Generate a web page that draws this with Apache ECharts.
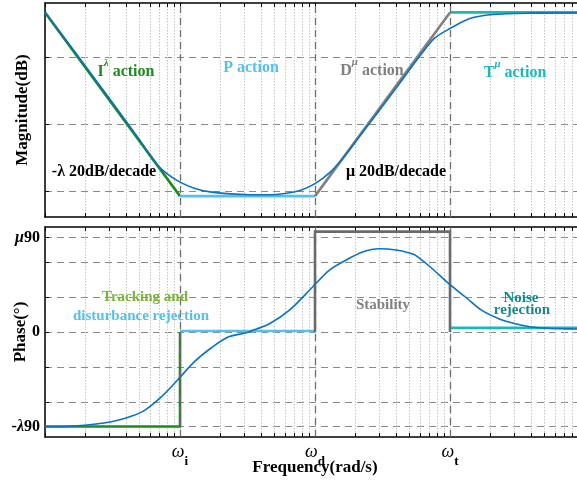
<!DOCTYPE html>
<html><head><meta charset="utf-8">
<script src="https://cdn.jsdelivr.net/npm/echarts@6/dist/echarts.min.js"></script>
<style>html,body{margin:0;padding:0;background:#fff}#c{width:577px;height:484px}</style>
</head><body><div id="c"></div>
<script>
// ---- axis / tick data ----
const freqMin = 0.01, freqMax = 100;
const freqMajor = [0.1, 1, 10];
const freqMajorSub = ['i', 'd', 't'];
const decades = [0.01, 0.1, 1, 10];
const magGridVals = [10, 20, 30];
const magMin = 6.2, magMax = 38;
const phaseGridVals = [-81, -60, -30, 0, 30, 60, 81];
const phaseLabelVals = [-81, 0, 81];
const phaseLabelText = ['-λ90', '0', 'μ90'];
const phaseMin = -90, phaseMax = 90;

// ---- magnitude asymptotes (dB) ----
const magIFreq = [0.01, 0.1],  magIVal = [36.6, 9.3];
const magPFreq = [0.1, 1],     magPVal = [9.3, 9.3];
const magDFreq = [1, 10],      magDVal = [9.3, 36.6];
const magTFreq = [10, 100],    magTVal = [36.6, 36.6];
// ---- magnitude curve ----
const magFreq = [0.01, 0.0257, 0.0508, 0.0634, 0.0778, 0.1, 0.129, 0.167, 0.235, 0.33, 0.464, 0.6, 0.774, 1.0, 1.29, 1.66, 2.14, 3.02, 4.24, 5.96, 7.69, 10, 14, 20.6, 38.7, 100];
const magVal  = [36.68, 25.63, 17.5, 14.61, 12.83, 11.38, 10.45, 9.93, 9.63, 9.51, 9.51, 9.7, 10.15, 11.15, 12.83, 15.28, 18.18, 22.13, 26.07, 30.09, 32.77, 34.21, 35.7, 36.29, 36.49, 36.53];

// ---- phase ideal (deg) ----
const phIFreq = [0.01, 0.1, 0.1], phIVal = [-81, -81, 0];
const phPFreq = [0.1, 1],         phPVal = [0.8, 0.8];
const phDFreq = [1, 1, 10, 10],   phDVal = [0, 86, 86, 0];
const phTFreq = [10, 100],        phTVal = [3.5, 3.5];
// ---- phase curve ----
const phFreq = [0.01, 0.0175, 0.031, 0.044, 0.055, 0.073, 0.096, 0.128, 0.17, 0.225, 0.3, 0.33, 0.46, 0.65, 0.96, 1.28, 1.7, 2.25, 3, 4, 5, 5.6, 7.4, 9.8, 13, 17, 23, 31, 40, 54, 85, 100];
const phVal  = [-81.2, -80.3, -76.9, -72, -66.9, -55.4, -41.1, -25.4, -13.7, -4.5, -1, 0.5, 7.1, 18.9, 38.6, 53.1, 61.7, 68.6, 71.4, 70.3, 67.7, 65.5, 54.2, 41.4, 30, 18.9, 11.4, 6.9, 4.3, 3.2, 2.6, 2.5];

const zip = (a, b) => a.map((v, i) => [v, b[i]]);
const minorTicks = [];
decades.forEach(d => { for (let k = 1; k <= 9; k++) minorTicks.push(+(d * k).toPrecision(3)); });
minorTicks.push(freqMax);

const SERIF = "'Liberation Serif','Times New Roman',serif";
const C = {
  green: '#1f8a1f', lblue: '#55c0ec', gray: '#808080', teal: '#1cb8b8',
  blue: '#0a72c0', olive: '#7db33c', dteal: '#178a8a'
};
const nameStyle = { fontFamily: SERIF, fontWeight: 'bold', fontSize: 17, color: '#000' };

function xAx(grid, pos, withSplit, withLabel, name) {
  const ax = {
    type: 'log', logBase: 10, gridIndex: grid, position: pos, min: freqMin, max: freqMax,
    axisLine: { show: true, onZero: false, lineStyle: { color: '#000', width: 1.5 } },
    axisTick: { show: true, inside: true, length: 4, customValues: minorTicks, lineStyle: { color: '#000', width: 1 } },
    axisLabel: { show: false },
    splitLine: { show: withSplit, lineStyle: { type: [1.5, 1.5], color: '#c4c4c4', width: 1 } },
    minorTick: { show: false }, minorSplitLine: { show: false }
  };
  if (withLabel) {
    ax.axisLabel = {
      show: true, customValues: freqMajor, margin: 2,
      formatter: v => {
        const i = Math.round(Math.log10(v)) + 1;
        return '{w|ω}{s|' + freqMajorSub[i] + '}';
      },
      rich: {
        w: { fontFamily: SERIF, fontStyle: 'italic', fontSize: 18, color: '#000', lineHeight: 22, verticalAlign: 'bottom' },
        s: { fontFamily: SERIF, fontWeight: 'bold', fontSize: 13, color: '#000', lineHeight: 22, verticalAlign: 'bottom', padding: [0, 0, -7, 0] }
      }
    };
    ax.name = name; ax.nameLocation = 'middle'; ax.nameGap = 22; ax.nameMoveOverlap = false;
    ax.nameTextStyle = nameStyle;
  }
  return ax;
}

const option = {
  animation: false,
  backgroundColor: '#fff',
  grid: [
    { left: 45, right: -8, top: 3, height: 214, outerBoundsMode: 'none', containLabel: false },
    { left: 45, right: -8, top: 227, height: 210, outerBoundsMode: 'none', containLabel: false }
  ],
  xAxis: [
    xAx(0, 'bottom', true, false),
    xAx(0, 'top', false, false),
    xAx(1, 'bottom', true, true, 'Frequency(rad/s)'),
    xAx(1, 'top', false, false)
  ],
  yAxis: [
    {
      type: 'value', gridIndex: 0, min: magMin, max: magMax,
      name: 'Magnitude(dB)', nameLocation: 'middle', nameGap: 14, nameRotate: 90, nameMoveOverlap: false,
      nameTextStyle: nameStyle,
      axisLine: { show: true, lineStyle: { color: '#000', width: 1.5 } },
      axisTick: { show: true, inside: true, length: 4, customValues: magGridVals, lineStyle: { color: '#000' } },
      axisLabel: { show: false },
      splitLine: { show: true, lineStyle: { type: [7, 5], color: '#8a8a8a', width: 1.2 } }
    },
    {
      type: 'value', gridIndex: 1, min: phaseMin, max: phaseMax,
      name: 'Phase(°)', nameLocation: 'middle', nameGap: 16, nameRotate: 90, nameMoveOverlap: false,
      nameTextStyle: nameStyle,
      axisLine: { show: true, lineStyle: { color: '#000', width: 1.5 } },
      axisTick: { show: true, inside: true, length: 4, customValues: phaseGridVals, lineStyle: { color: '#000' } },
      axisLabel: {
        show: true, customValues: phaseLabelVals, margin: 5,
        formatter: v => {
          const i = phaseLabelVals.indexOf(Math.round(v));
          const t = phaseLabelText[i];
          if (t === '0') return '{b|0}';
          return '{b|' + t.slice(0, t.length - 3) + '}{g|' + t.slice(t.length - 3, t.length - 2) + '}{b|90}';
        },
        rich: {
          b: { fontFamily: SERIF, fontWeight: 'bold', fontSize: 16, color: '#000' },
          g: { fontFamily: SERIF, fontStyle: 'italic', fontWeight: 'bold', fontSize: 16, color: '#000' }
        }
      },
      splitLine: { show: true, lineStyle: { type: [7, 5], color: '#8a8a8a', width: 1.2 } }
    }
  ],
  series: []
};

function vmark(xi, yi) {
  return {
    type: 'line', xAxisIndex: xi, yAxisIndex: yi, data: [], z: 1, silent: true,
    markLine: {
      silent: true, symbol: ['none', 'none'], label: { show: false },
      lineStyle: { type: [7, 5], color: '#6e6e6e', width: 1.3 },
      data: freqMajor.map(f => ({ xAxis: f }))
    }
  };
}
function ln(xi, yi, f, v, color, w, smooth, z) {
  return {
    type: 'line', xAxisIndex: xi, yAxisIndex: yi, data: zip(f, v), symbol: 'none',
    smooth: smooth || false, z: z || 3, silent: true,
    lineStyle: { color: color, width: w, cap: 'butt', join: 'miter' }
  };
}
option.series.push(
  vmark(0, 0),
  ln(0, 0, magIFreq, magIVal, C.green, 2.6),
  ln(0, 0, magPFreq, magPVal, C.lblue, 2.6),
  ln(0, 0, magDFreq, magDVal, C.gray, 2.6),
  ln(0, 0, magTFreq, magTVal, C.teal, 2.6),
  ln(0, 0, magFreq, magVal, C.blue, 1.6, 0.3, 4),
  vmark(2, 1),
  ln(2, 1, phIFreq, phIVal, C.green, 2.6),
  ln(2, 1, phPFreq, phPVal, C.lblue, 2.6),
  ln(2, 1, phDFreq, phDVal, '#6a6a6a', 2.6),
  ln(2, 1, phTFreq, phTVal, C.teal, 2.6),
  ln(2, 1, phFreq, phVal, C.blue, 1.6, 0.3, 4)
);

function txt(x, y, text, color, rich, size) {
  const st = { text: text, x: x, y: y, align: 'center', verticalAlign: 'middle', font: 'bold ' + (size || 16) + 'px ' + SERIF, fill: color };
  if (rich) st.rich = rich;
  return { type: 'text', z: 100, silent: true, style: st };
}
function supRich(color) {
  return {
    a: { fontFamily: SERIF, fontWeight: 'bold', fontSize: 16, fill: color, color: color, lineHeight: 22, verticalAlign: 'bottom' },
    s: { fontFamily: SERIF, fontWeight: 'bold', fontStyle: 'italic', fontSize: 11, fill: color, color: color, lineHeight: 22, verticalAlign: 'top' }
  };
}
option.graphic = [
  txt(126, 69, '{a|I}{s|λ}{a| action}', C.green, supRich(C.green)),
  txt(251, 68, 'P action', C.lblue),
  txt(372, 68, '{a|D}{s|μ}{a| action}', C.gray, supRich(C.gray)),
  txt(515, 70, '{a|T}{s|μ}{a| action}', C.teal, supRich(C.teal)),
  txt(104, 172, '-λ 20dB/decade', '#000'),
  txt(396, 172, 'μ 20dB/decade', '#000'),
  txt(145, 297, 'Tracking and', C.olive, null, 15),
  txt(141, 316, 'disturbance rejection', C.lblue, null, 15),
  txt(383, 305, 'Stability', C.gray, null, 15),
  txt(521, 298, 'Noise', C.dteal, null, 15),
  txt(522, 310, 'rejection', C.dteal, null, 15)
];

const chart = echarts.init(document.getElementById('c'), null, { renderer: 'canvas' });
chart.setOption(option);
</script></body></html>
